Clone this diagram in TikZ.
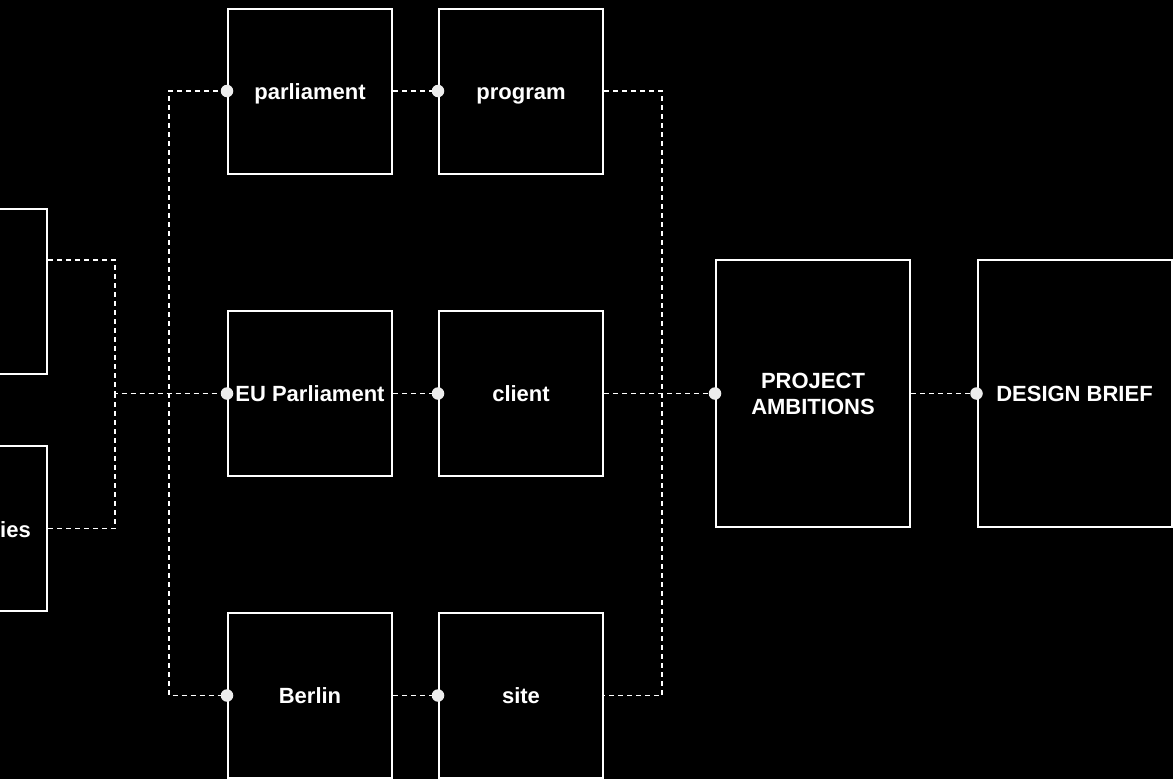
\documentclass[tikz,border=0pt]{standalone}
\usepackage{fontspec}
\setmainfont{Liberation Sans}
\begin{document}
\begin{tikzpicture}[x=1pt,y=-1pt,
  box/.style={draw=white, line width=2pt, minimum width=164pt, minimum height=165pt,
    inner sep=0pt, text=white, font=\bfseries\fontsize{22}{26}\selectfont, align=center,
    text height=18pt, text depth=2pt},
  bigbox/.style={box, minimum width=194pt, minimum height=267pt},
  label/.style={text=white, inner sep=0pt, font=\bfseries\fontsize{22}{26}\selectfont},
  link/.style={draw=white, line width=1.5pt, dash pattern=on 5pt off 4pt},
  dot/.style={circle, fill=white!93!black, minimum size=12.5pt, inner sep=0pt}]
  \useasboundingbox (0,0) rectangle (1173,779);
  \fill[black] (0,0) rectangle (1173,779);
  \clip (0,0) rectangle (1173,779);

  % source boxes, partly outside the frame
  \node[box] (src1) at (-35,291.5) {};
  \node[box] (src2) at (-35,528.5) {};
  \node[label, anchor=base east] (srclbl) at (31,537) {ies};

  % middle columns
  \node[box] (parl) at (310,91) {parliament};
  \node[box] (eu) at (310,393.5) {EU Parliament};
  \node[box] (berlin) at (310,695.5) {Berlin};
  \node[box] (prog) at (521,91) {program};
  \node[box] (client) at (521,393.5) {client};
  \node[box] (site) at (521,695.5) {site};

  % outcome boxes
  \node[bigbox, text height={}, text depth={}] (amb) at (813,393.5) {PROJECT\\AMBITIONS};
  \node[bigbox] (brief) at (1074.5,393.5) {DESIGN BRIEF};

  % bus junctions
  \coordinate (j1) at (115,393.5);
  \coordinate (j2) at (169,393.5);
  \coordinate (j3) at (662,393.5);

  % connectors
  \draw[link] ([yshift=31.5pt]src1.east) -| (j1) -- (eu.west);
  \draw[link] (src2.east) -| (j1);
  \draw[link] (parl.west) -| (j2) |- (berlin.west);
  \draw[link] (parl.east) -- (prog.west);
  \draw[link] (eu.east) -- (client.west);
  \draw[link] (berlin.east) -- (site.west);
  \draw[link] (prog.east) -| (j3) |- (site.east);
  \draw[link] (client.east) -- (amb.west);
  \draw[link] (amb.east) -- (brief.west);

  % connection dots
  \foreach \n in {parl,eu,berlin,prog,client,site,amb,brief}
    \node[dot] at (\n.west) {};
\end{tikzpicture}
\end{document}
